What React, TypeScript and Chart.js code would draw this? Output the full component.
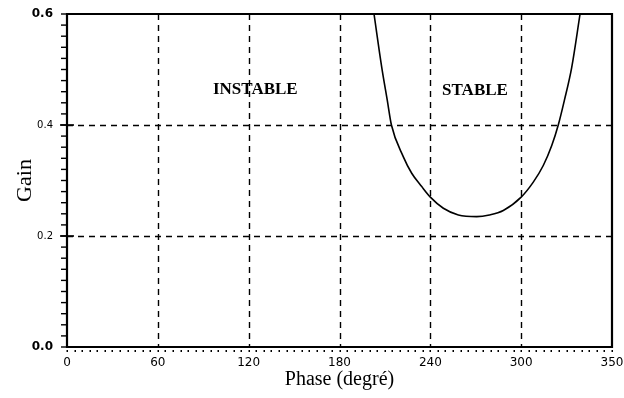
import React, { useEffect, useRef } from "react";
import { Chart, registerables } from "chart.js";

Chart.register(...registerables);

// Curve: Gain vs Phase (degré)
const phaseValues = [202.8, 207.9, 211.6, 214.3, 222.1, 227.7, 234.3, 240.0, 248.6, 258.5, 270.6, 279.0, 288.2, 300.0, 308.0, 314.6, 320.2, 324.5, 328.5, 333.4, 338.9];
const gainValues = [0.6, 0.504, 0.444, 0.4, 0.343, 0.313, 0.289, 0.27, 0.25, 0.238, 0.235, 0.238, 0.246, 0.27, 0.297, 0.327, 0.363, 0.4, 0.444, 0.504, 0.6];

const xTickLabels = ["0", "60", "120", "180", "240", "300", "350"];
const yTickLabels = ["0.0", "0.2", "0.4", "0.6"];

const annotationTexts = ["INSTABLE", "STABLE"];
const annotationPhase = [124.4, 269.5];
const annotationGain = [0.463, 0.462];

const xTitle = "Phase (degré)";
const yTitle = "Gain";

const SERIF = "'Liberation Serif', 'DejaVu Serif', serif";
const SANS = "'DejaVu Sans', sans-serif";

const framePlugin = {
  id: "framePlugin",
  beforeDatasetsDraw(chart: any) {
    const { ctx, chartArea, scales } = chart;
    const { left, right, top, bottom } = chartArea;
    const x = scales.x;
    const y = scales.y;
    ctx.save();
    ctx.strokeStyle = "#000";
    ctx.setLineDash([6, 5]);
    ctx.lineWidth = 1.4;
    x.ticks.forEach((t: any) => {
      if (t.value <= x.min || t.value >= x.max) return;
      const px = Math.round(x.getPixelForValue(t.value)) + 0.5;
      ctx.beginPath();
      ctx.moveTo(px, top);
      ctx.lineTo(px, bottom);
      ctx.stroke();
    });
    y.ticks.forEach((t: any) => {
      if (t.value <= y.min || t.value >= y.max) return;
      const py = Math.round(y.getPixelForValue(t.value)) + 0.5;
      ctx.beginPath();
      ctx.moveTo(left, py);
      ctx.lineTo(right, py);
      ctx.stroke();
    });
    ctx.setLineDash([]);
    ctx.lineWidth = 1.4;
    for (let i = 0; i <= 30; i++) {
      const py = y.getPixelForValue(i * 0.02);
      ctx.beginPath();
      ctx.moveTo(left - 6, py);
      ctx.lineTo(left, py);
      ctx.stroke();
    }
    ctx.lineWidth = 1.6;
    y.ticks.forEach((t: any) => {
      if (t.value <= y.min || t.value >= y.max) return;
      const py = y.getPixelForValue(t.value);
      ctx.beginPath();
      ctx.moveTo(left - 7, py);
      ctx.lineTo(left + 7, py);
      ctx.stroke();
    });
    ctx.fillStyle = "#000";
    for (let i = 0; i <= 72; i++) {
      const px = x.getPixelForValue(i * 5);
      ctx.fillRect(Math.round(px) - 0.5, bottom + 3, 1.5, 2);
    }
    ctx.lineWidth = 2.2;
    ctx.beginPath();
    ctx.moveTo(left, top);
    ctx.lineTo(right, top);
    ctx.lineTo(right, bottom);
    ctx.lineTo(left, bottom);
    ctx.closePath();
    ctx.stroke();
    ctx.font = `bold 17px ${SERIF}`;
    ctx.textAlign = "center";
    ctx.textBaseline = "middle";
    annotationTexts.forEach((txt, i) => {
      ctx.fillText(txt, x.getPixelForValue(annotationPhase[i]), y.getPixelForValue(annotationGain[i]));
    });
    ctx.restore();
  },
};

export default function App() {
  const canvasRef = useRef<HTMLCanvasElement | null>(null);

  useEffect(() => {
    document.body.style.margin = "0";
    const canvas = canvasRef.current;
    if (!canvas) return;
    const chart = new Chart(canvas, {
      type: "line",
      data: {
        datasets: [
          {
            data: phaseValues.map((p, i) => ({ x: p, y: gainValues[i] })),
            borderColor: "#000",
            borderWidth: 1.6,
            pointRadius: 0,
            fill: false,
            cubicInterpolationMode: "monotone",
          },
        ],
      },
      options: {
        responsive: false,
        animation: false,
        events: [],
        layout: { padding: { left: 0, right: 12, top: 14, bottom: 0 } },
        plugins: { legend: { display: false }, tooltip: { enabled: false } },
        scales: {
          x: {
            type: "linear",
            min: 0,
            max: 360,
            grid: { display: false, drawTicks: false },
            border: { display: false },
            ticks: {
              stepSize: 60,
              padding: 9,
              color: "#000",
              font: { family: SANS, size: 12 },
              maxRotation: 0,
              callback: (_v: any, i: number) => xTickLabels[i],
            },
            title: {
              display: true,
              text: xTitle,
              color: "#000",
              font: { family: SERIF, size: 20 },
              padding: { top: 0, bottom: 6 },
            },
            afterFit: (s: any) => {
              s.height = 51;
              s.paddingLeft = 0;
              s.paddingRight = 0;
            },
          },
          y: {
            type: "linear",
            min: 0,
            max: 0.6,
            grid: { display: false, drawTicks: false },
            border: { display: false },
            ticks: {
              stepSize: 0.2,
              padding: 14,
              color: "#000",
              font: (ctx: any) =>
                ctx.index === 0 || ctx.index === 3
                  ? { family: SANS, size: 12, weight: "bold" }
                  : { family: SANS, size: 10 },
              callback: (_v: any, i: number) => yTickLabels[i],
            },
            title: {
              display: true,
              text: yTitle,
              color: "#000",
              font: { family: SERIF, size: 22 },
              padding: { top: 12, bottom: 0 },
            },
            afterFit: (s: any) => {
              s.width = 67;
              s.paddingTop = 0;
              s.paddingBottom = 0;
            },
          },
        },
      },
      plugins: [framePlugin],
    });
    return () => chart.destroy();
  }, []);

  return (
    <div style={{ width: 624, height: 398 }}>
      <canvas ref={canvasRef} width={624} height={398} style={{ display: "block" }} />
    </div>
  );
}
